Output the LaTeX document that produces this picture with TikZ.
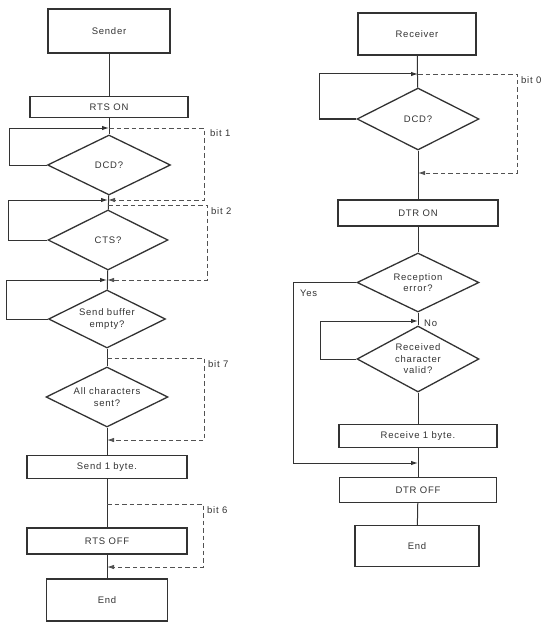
\documentclass[tikz,border=0pt]{standalone}
\usepackage{fontspec}
\newfontfamily\lbfont[LetterSpace=8]{Liberation Sans}
\usetikzlibrary{shapes.geometric,arrows.meta}
\definecolor{ink}{HTML}{333333}
\tikzset{
  txt/.style={font=\lbfont\fontsize{9.5}{11.5}\selectfont, text=ink, align=center},
  box/.style={txt, draw=ink, line width=1.4pt, rectangle, inner sep=0pt},
  dia/.style={txt, draw=ink, line width=1.3pt, diamond, aspect=2, inner sep=0pt},
  flow/.style={draw=ink, line width=1pt},
  arr/.style={flow, -{Latex[length=7pt,width=4.5pt]}},
  dsh/.style={draw=ink!85, line width=0.9pt, dash pattern=on 4.5pt off 3pt},
  darr/.style={dsh, -{Latex[length=7pt,width=4.5pt]}},
  lbl/.style={txt, anchor=west, inner sep=0pt}
}
\begin{document}
\begin{tikzpicture}[x=1pt,y=-1pt]
\useasboundingbox (0,0) rectangle (548,623);

% ---------------- Sender (left) ----------------
\node[box, minimum width=122pt, minimum height=44pt] (snd) at (109,31) {Sender};
\node[box, minimum width=158pt, minimum height=21pt] (rtson) at (109,107) {RTS ON};
\node[dia, minimum width=123pt, minimum height=60pt] (dcd1) at (109,165) {DCD?};
\node[dia, minimum width=120pt, minimum height=60pt] (cts) at (108,240) {CTS?};
\node[dia, minimum width=117pt, minimum height=58pt] (sbe) at (107,319) {Send buffer\\empty?};
\node[dia, minimum width=122pt, minimum height=60pt] (acs) at (107,397) {All characters\\sent?};
\node[box, minimum width=160pt, minimum height=23pt] (send1) at (107,467) {Send 1 byte.};
\node[box, minimum width=160pt, minimum height=26pt] (rtsoff) at (107,541) {RTS OFF};
\node[box, minimum width=121pt, minimum height=42pt] (end1) at (107,600) {End};

\draw[flow] (snd) -- (rtson);
\draw[flow] (rtson) -- (dcd1);
\draw[flow] (dcd1) -- (cts);
\draw[flow] (cts) -- (sbe);
\draw[flow] (sbe) -- (acs);
\draw[flow] (acs) -- (send1);
\draw[flow] (send1) -- (rtsoff);
\draw[flow] (rtsoff) -- (end1);

% junctions on the left spine
\coordinate (j1) at (109,128);
\coordinate (j2) at (108,200);
\coordinate (jb2) at (108,205);
\coordinate (j3) at (107,280);
\coordinate (jb7) at (107,358);
\coordinate (j4) at (107,440);
\coordinate (jb6) at (107,504);
\coordinate (j5) at (107,567);

% solid wait loops
\coordinate (l1) at (9,128);
\coordinate (l2) at (8,200);
\coordinate (l3) at (6,280);
\draw[arr] (dcd1.west) -| (l1) -- (j1);
\draw[arr] (cts.west) -| (l2) -- (j2);
\draw[arr] (sbe.west) -| (l3) -- (j3);

% dashed bit bypasses
\coordinate (b1a) at (204,128); \coordinate (b1b) at (204,200);
\draw[darr] (j1) -- (b1a) -- (b1b) -- (j2);
\node[lbl] (t1) at (210,133) {bit 1};

\coordinate (b2a) at (207,205); \coordinate (b2b) at (207,280);
\draw[darr] (jb2) -- (b2a) -- (b2b) -- (j3);
\node[lbl] (t2) at (211,211) {bit 2};

\coordinate (b7a) at (204,358); \coordinate (b7b) at (204,440);
\draw[darr] (jb7) -- (b7a) -- (b7b) -- (j4);
\node[lbl] (t7) at (208,364) {bit 7};

\coordinate (b6a) at (203,504); \coordinate (b6b) at (203,567);
\draw[darr] (jb6) -- (b6a) -- (b6b) -- (j5);
\node[lbl] (t6) at (207,510) {bit 6};

% ---------------- Receiver (right) ----------------
\node[box, minimum width=118pt, minimum height=42pt] (recv) at (417,34) {Receiver};
\node[dia, minimum width=122pt, minimum height=62pt] (dcd2) at (418,119) {DCD?};
\node[box, minimum width=160pt, minimum height=26pt] (dtron) at (418,213) {DTR ON};
\node[dia, minimum width=122pt, minimum height=59pt] (recerr) at (418,282.5) {Reception\\error?};
\node[dia, minimum width=122pt, minimum height=66pt] (rcv) at (418,359) {Received\\character\\valid?};
\node[box, minimum width=158pt, minimum height=23pt] (rx1) at (418,436) {Receive 1 byte.};
\node[box, minimum width=157pt, minimum height=25pt] (dtroff) at (418,490) {DTR OFF};
\node[box, minimum width=124pt, minimum height=41pt] (end2) at (417,546) {End};

\draw[flow] (recv) -- (dcd2);
\draw[flow] (dcd2) -- (dtron);
\draw[flow] (dtron) -- (recerr);
\draw[flow] (recerr) -- (rcv);
\draw[flow] (rcv) -- (rx1);
\draw[flow] (rx1) -- (dtroff);
\draw[flow] (dtroff) -- (end2);

\coordinate (j6) at (418,74);
\coordinate (j7) at (418,173);
\coordinate (j8) at (418,321);
\coordinate (j9) at (418,463);

\coordinate (l6) at (319,74);
\draw[arr] (dcd2.west) -| (l6) -- (j6);

\coordinate (b0a) at (517,74); \coordinate (b0b) at (517,173);
\draw[darr] (j6) -- (b0a) -- (b0b) -- (j7);
\node[lbl] (t0) at (521,80) {bit 0};

\coordinate (ly) at (293,463);
\draw[arr] (recerr.west) -| (ly) -- (j9);
\node[lbl] (yes) at (300,293) {Yes};

\coordinate (l8) at (320,321);
\draw[arr] (rcv.west) -| (l8) -- (j8);
\node[lbl] (no) at (424,323) {No};

\end{tikzpicture}
\end{document}
